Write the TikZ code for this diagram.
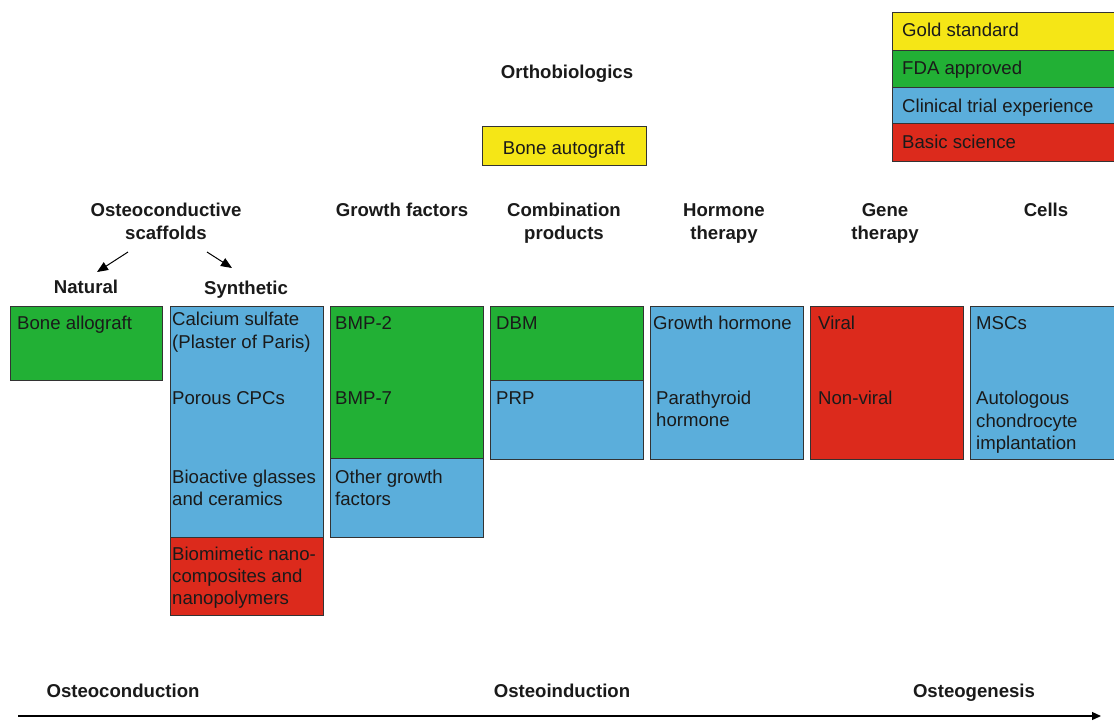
\documentclass[tikz,border=0pt]{standalone}
\usepackage{fontspec}
\setmainfont{Liberation Sans}
\usetikzlibrary{arrows.meta}
\definecolor{cyel}{HTML}{F5E616}
\definecolor{cgrn}{HTML}{22B035}
\definecolor{cblu}{HTML}{5BAEDB}
\definecolor{cred}{HTML}{DC2A1C}
\definecolor{cline}{HTML}{333333}
\definecolor{ctxt}{HTML}{1A1A1A}
\begin{document}
\begin{tikzpicture}[x=1pt,y=-1pt,
  box/.style={draw=cline,line width=0.9pt,inner sep=0pt,anchor=north west},
  txt/.style={inner sep=0pt,anchor=base west,text=ctxt,font=\fontsize{18.6}{22.5}\selectfont},
  hdr/.style={inner sep=0pt,anchor=base,text=ctxt,font=\fontsize{18.6}{22.5}\selectfont\bfseries},
  arr/.style={-{Triangle[length=11pt,width=9pt]},line width=1pt,draw=black}]
\useasboundingbox[fill=white] (0,0) rectangle (1114,721);

% legend
\node[box,fill=cyel,minimum width=230pt,minimum height=38pt] (lg1) at (892,12) {};
\node[box,fill=cgrn,minimum width=230pt,minimum height=37pt] (lg2) at (892,50) {};
\node[box,fill=cblu,minimum width=230pt,minimum height=36pt] (lg3) at (892,87) {};
\node[box,fill=cred,minimum width=230pt,minimum height=38pt] (lg4) at (892,123) {};
\node[txt] (lt1) at (902,36) {Gold standard};
\node[txt] (lt2) at (902,74) {FDA approved};
\node[txt] (lt3) at (902,112) {Clinical trial experience};
\node[txt] (lt4) at (902,148) {Basic science};

% title
\node[hdr] (title) at (567,78) {Orthobiologics};
\node[box,fill=cyel,minimum width=164pt,minimum height=39pt] (auto) at (482,126) {};
\node[txt,anchor=base] (autot) at (564,154) {Bone autograft};

% headers
\node[hdr] (h1a) at (166,216) {Osteoconductive};
\node[hdr] (h1b) at (166,239) {scaffolds};
\node[hdr] (h2) at (402,216) {Growth factors};
\node[hdr] (h3a) at (564,216) {Combination};
\node[hdr] (h3b) at (564,239) {products};
\node[hdr] (h4a) at (724,216) {Hormone};
\node[hdr] (h4b) at (724,239) {therapy};
\node[hdr] (h5a) at (885,216) {Gene};
\node[hdr] (h5b) at (885,239) {therapy};
\node[hdr] (h6) at (1046,216) {Cells};

\coordinate (a1s) at (128,252);
\coordinate (a1e) at (97,272);
\coordinate (a2s) at (207,252);
\coordinate (a2e) at (232,268);
\draw[arr] (a1s) -- (a1e);
\draw[arr] (a2s) -- (a2e);
\node[hdr] (nat) at (86,293) {Natural};
\node[hdr] (syn) at (246,294) {Synthetic};

% column 1: natural
\node[box,fill=cgrn,minimum width=152pt,minimum height=74pt] (b1) at (10,306) {};
\node[txt] (t1) at (17,329) {Bone allograft};

% column 2: synthetic
\node[box,fill=cblu,minimum width=153pt,minimum height=231pt] (b2) at (170,306) {};
\node[box,fill=cred,minimum width=153pt,minimum height=78pt] (b2r) at (170,537) {};
\node[txt] (t2a) at (172,325) {Calcium sulfate};
\node[txt] (t2b) at (172,348) {(Plaster of Paris)};
\node[txt] (t2c) at (172,404) {Porous CPCs};
\node[txt] (t2d) at (172,483) {Bioactive glasses};
\node[txt] (t2e) at (172,505) {and ceramics};
\node[txt] (t2f) at (172,560) {Biomimetic nano-};
\node[txt] (t2g) at (172,582) {composites and};
\node[txt] (t2h) at (172,604) {nanopolymers};

% column 3: growth factors
\node[box,fill=cgrn,minimum width=153pt,minimum height=152pt] (b3) at (330,306) {};
\node[box,fill=cblu,minimum width=153pt,minimum height=79pt] (b3b) at (330,458) {};
\node[txt] (t3a) at (335,329) {BMP-2};
\node[txt] (t3b) at (335,404) {BMP-7};
\node[txt] (t3c) at (335,483) {Other growth};
\node[txt] (t3d) at (335,505) {factors};

% column 4: combination
\node[box,fill=cgrn,minimum width=153pt,minimum height=74pt] (b4) at (490,306) {};
\node[box,fill=cblu,minimum width=153pt,minimum height=79pt] (b4b) at (490,380) {};
\node[txt] (t4a) at (496,329) {DBM};
\node[txt] (t4b) at (496,404) {PRP};

% column 5: hormone
\node[box,fill=cblu,minimum width=153pt,minimum height=153pt] (b5) at (650,306) {};
\node[txt] (t5a) at (653,329) {Growth hormone};
\node[txt] (t5b) at (656,404) {Parathyroid};
\node[txt] (t5c) at (656,426) {hormone};

% column 6: gene
\node[box,fill=cred,minimum width=153pt,minimum height=153pt] (b6) at (810,306) {};
\node[txt] (t6a) at (818,329) {Viral};
\node[txt] (t6b) at (818,404) {Non-viral};

% column 7: cells
\node[box,fill=cblu,minimum width=160pt,minimum height=153pt] (b7) at (970,306) {};
\node[txt] (t7a) at (976,329) {MSCs};
\node[txt] (t7b) at (976,404) {Autologous};
\node[txt] (t7c) at (976,427) {chondrocyte};
\node[txt] (t7d) at (976,449) {implantation};

% bottom axis
\node[hdr] (o1) at (123,697) {Osteoconduction};
\node[hdr] (o2) at (562,697) {Osteoinduction};
\node[hdr] (o3) at (974,697) {Osteogenesis};
\coordinate (axs) at (18,716);
\coordinate (axe) at (1101,716);
\draw[-{Triangle[length=9pt,width=8pt]},line width=1.3pt] (axs) -- (axe);
\end{tikzpicture}
\end{document}
